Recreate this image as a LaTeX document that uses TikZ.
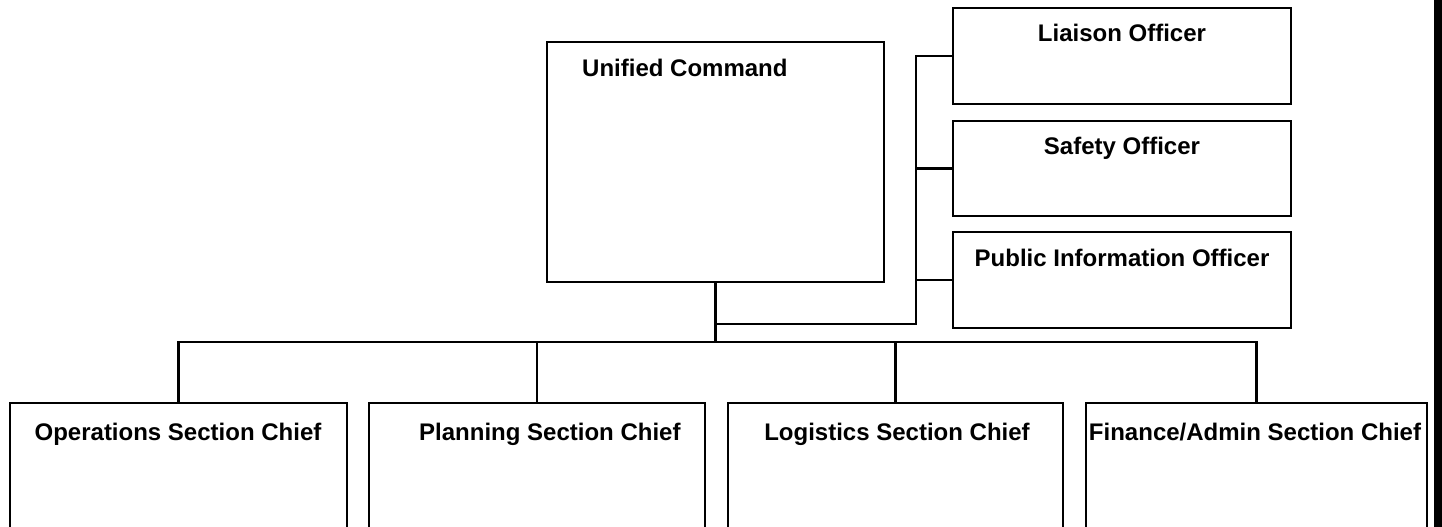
\documentclass[tikz,border=0pt]{standalone}
\usepackage{fontspec}
\setmainfont{Liberation Sans}
\begin{document}
\begin{tikzpicture}[x=1pt,y=-1pt,
  box/.style={draw=black, line width=2.6pt, rectangle, inner sep=0pt, outer sep=0pt, anchor=north west, fill=white},
  lbl/.style={font=\fontsize{24}{28}\selectfont\bfseries, inner sep=0pt, text=black},
  conn/.style={draw=black, line width=2.4pt}]
\useasboundingbox (0,0) rectangle (1442,527);
\clip (0,0) rectangle (1442,527);
\fill[white] (0,0) rectangle (1442,527);
% command
\node[box, minimum width=337pt, minimum height=240pt] (uc) at (547,42) {};
\node[lbl, anchor=base west] (uct) at (582,76) {Unified Command};
% staff
\node[box, minimum width=338pt, minimum height=96pt] (lia) at (953,8) {};
\node[lbl, anchor=base] (liat) at (1122,42) {Liaison Officer};
\node[box, minimum width=338pt, minimum height=95pt] (saf) at (953,121) {};
\node[lbl, anchor=base] (saft) at (1122,154) {Safety Officer};
\node[box, minimum width=338pt, minimum height=96pt] (pio) at (953,232) {};
\node[lbl, anchor=base] (piot) at (1122,266) {Public Information Officer};
% sections
\node[box, minimum width=337pt, minimum height=150pt] (ops) at (10,403) {};
\node[lbl, anchor=base] (opst) at (178,440) {Operations Section Chief};
\node[box, minimum width=336pt, minimum height=150pt] (plan) at (369,403) {};
\node[lbl, anchor=base west] (plant) at (419,440) {Planning Section Chief};
\node[box, minimum width=335pt, minimum height=150pt] (log) at (728,403) {};
\node[lbl, anchor=base] (logt) at (897,440) {Logistics Section Chief};
\node[box, minimum width=341pt, minimum height=150pt] (fin) at (1086,403) {};
\node[lbl, anchor=base] (fint) at (1255,440) {Finance/Admin Section Chief};
% connectors
\coordinate (bus) at (715.5,342);
\coordinate (sbus) at (916,324);
\draw[conn] (uc.south) -- (uc.south |- bus);
\draw[conn] (ops.north) -- (ops.north |- bus) -- (fin.north |- bus) -- (fin.north);
\draw[conn] (plan.north) -- (plan.north |- bus);
\draw[conn] (log.north) -- (log.north |- bus);
\draw[conn] (uc.south |- sbus) -- (sbus) |- (lia.west);
\draw[conn] (saf.west) -- (saf.west -| sbus);
\draw[conn] (pio.west) -- (pio.west -| sbus);
% right edge bar
\fill[black] (1434,0) rectangle (1442,527);
\end{tikzpicture}
\end{document}
